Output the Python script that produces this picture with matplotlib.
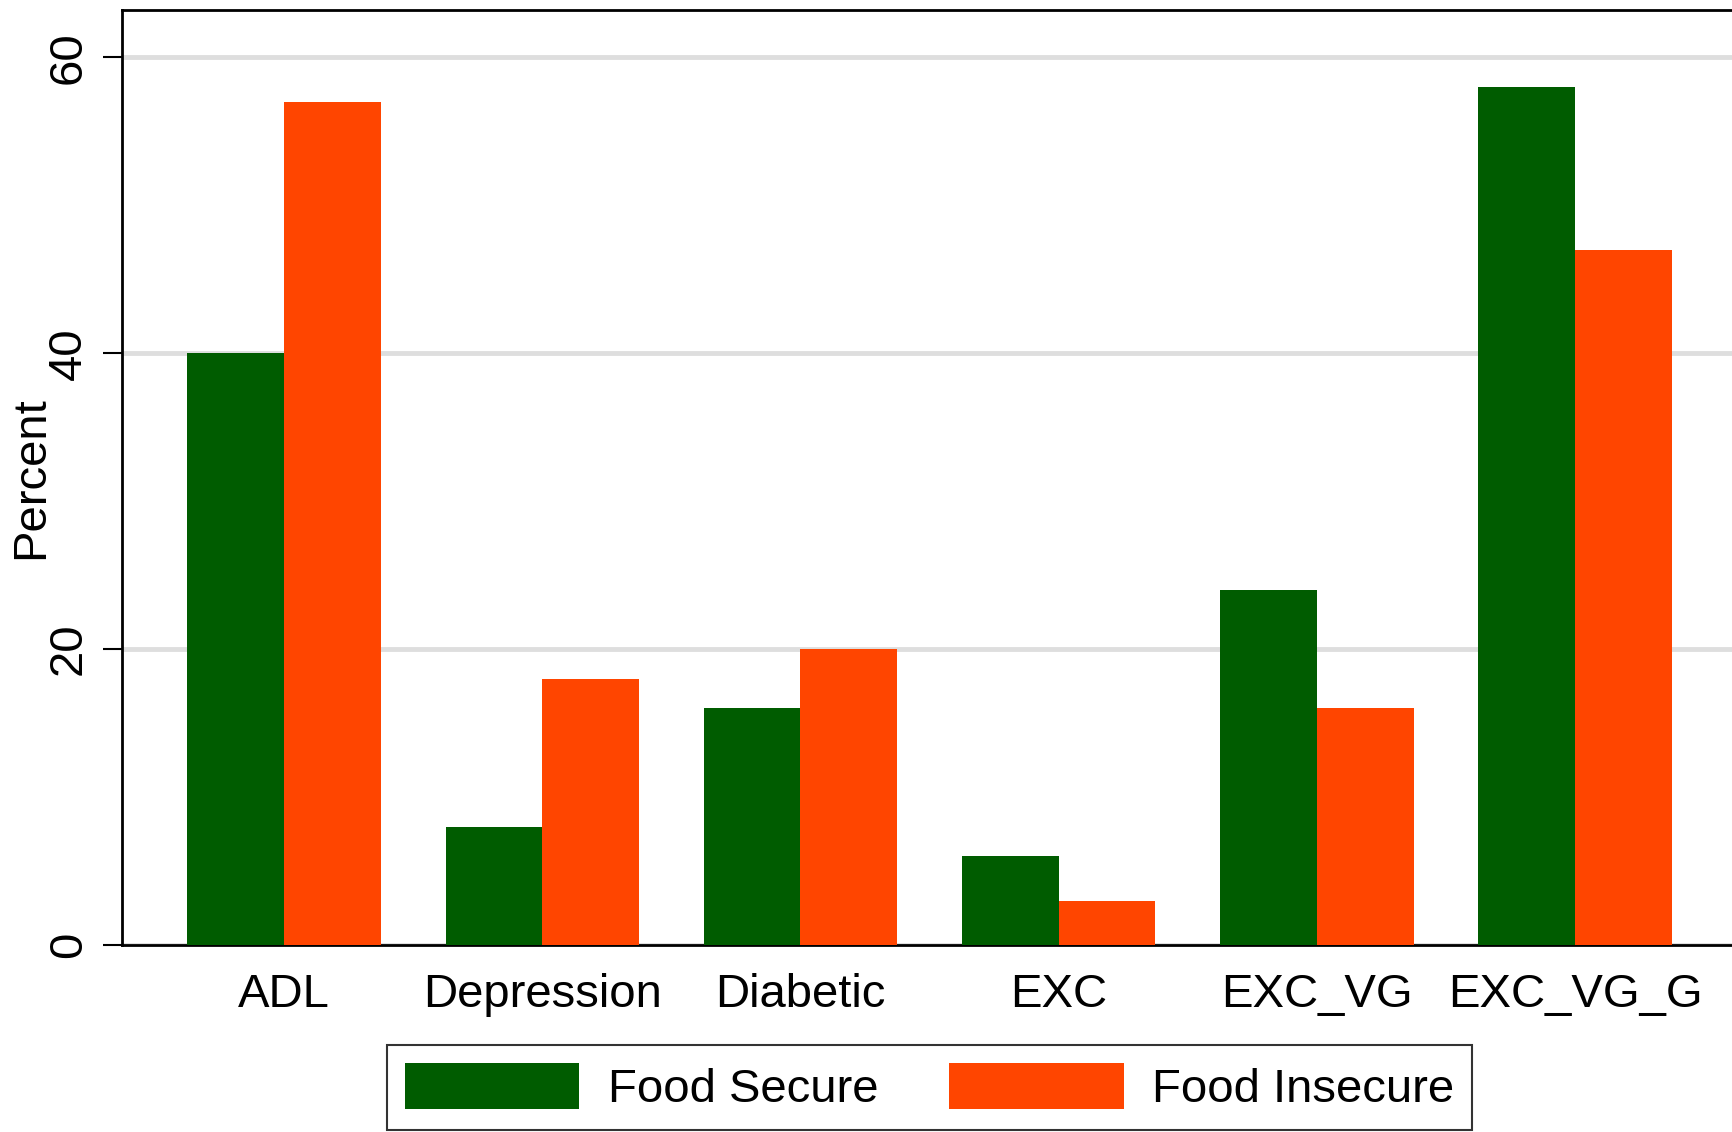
import matplotlib
matplotlib.use("Agg")
import matplotlib.pyplot as plt
import numpy as np

categories = ["ADL", "Depression", "Diabetic", "EXC", "EXC_VG", "EXC_VG_G"]
food_secure = [40, 8, 16, 6, 24, 58]
food_insecure = [57, 18, 20, 3, 16, 47]
series_names = ["Food Secure", "Food Insecure"]
yticks = [0, 20, 40, 60]

GREEN = "#005C00"
ORANGE = "#FF4500"

plt.rcParams["font.family"] = ["Liberation Sans", "DejaVu Sans"]
FS = 34

W, H = 1733, 1132
fig = plt.figure(figsize=(W / 100, H / 100), dpi=100)
left = 121.6 / W
right = 1740 / W
bottom = (H - 945) / H
top = (H - 10) / H
ax = fig.add_axes([left, bottom, right - left, top - bottom])

x = np.arange(len(categories))
bw = 0.3745
ax.bar(x - bw / 2, food_secure, width=bw, color=GREEN, label=series_names[0], zorder=3)
ax.bar(x + bw / 2, food_insecure, width=bw, color=ORANGE, label=series_names[1], zorder=3)

ax.set_xlim(-0.629, 5.639)
ax.set_ylim(0, 63.2)
ax.set_yticks(yticks)
ax.set_yticklabels([str(t) for t in yticks], rotation=90, va="center", fontsize=FS)
ax.yaxis.grid(True, color="#dedede", linewidth=3.5, zorder=0)
ax.set_axisbelow(True)
ax.tick_params(axis="y", length=14, width=1.5, pad=8)
ax.set_xticks(x)
ax.set_xticklabels(categories, fontsize=FS)
ax.tick_params(axis="x", length=0, pad=20)
ax.set_ylabel("Percent", fontsize=FS, va="center")
ax.yaxis.set_label_coords((31 - 121.6) / 1618, 0.5)

for s in ["top", "left", "bottom"]:
    ax.spines[s].set_linewidth(2)
ax.spines["right"].set_visible(False)

leg = fig.legend(loc="lower center", bbox_to_anchor=(929.5 / W, (H - 1130) / H),
                 ncol=2, fontsize=FS, frameon=True, fancybox=False,
                 edgecolor="black", handlelength=3.7, handleheight=1.15,
                 handletextpad=0.6, columnspacing=1.5, borderpad=0.38,
                 borderaxespad=0)
leg.get_frame().set_linewidth(1.5)

fig.savefig("out.png", dpi=100)
